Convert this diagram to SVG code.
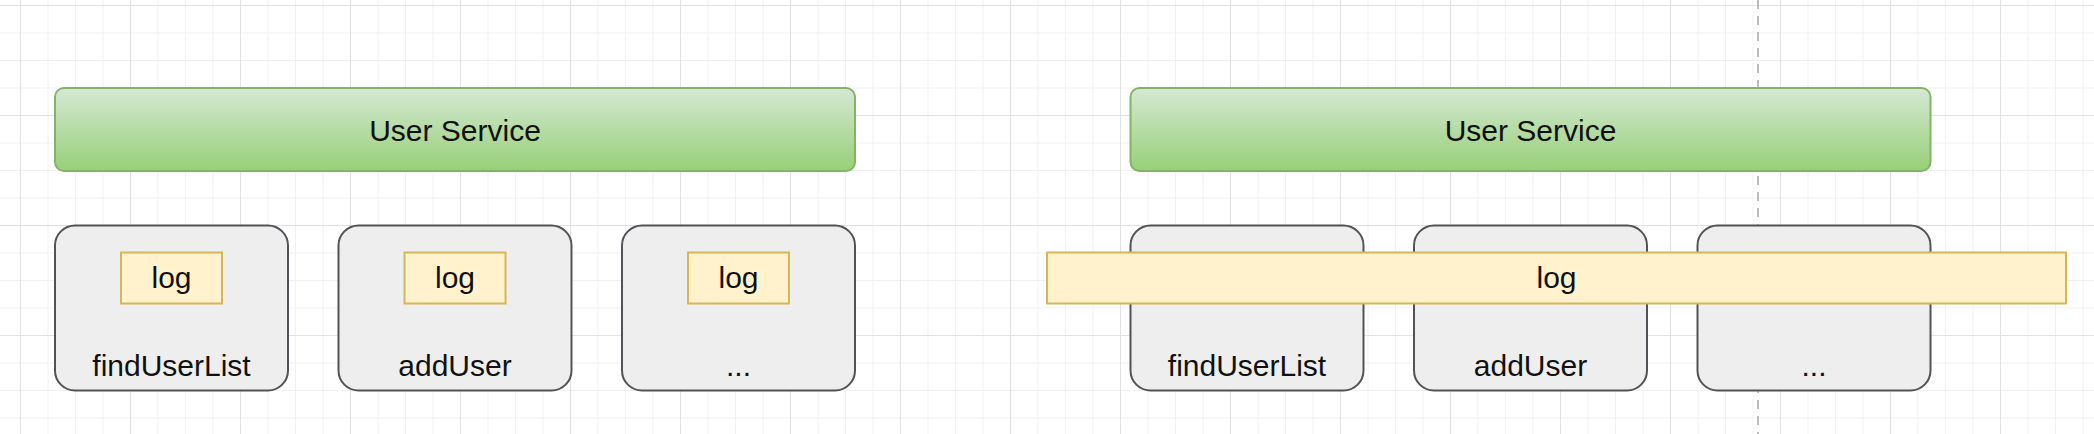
<svg xmlns="http://www.w3.org/2000/svg" width="2094" height="434" viewBox="0 0 2094 434">
  <style>
    .svc { fill: url(#greenGrad); stroke: #82b366; stroke-width: 2; }
    .method { fill: #eeeeee; stroke: #505357; stroke-width: 2; }
    .log { fill: #fff2cc; stroke: #d6b656; stroke-width: 2; }
    .txt { font-family: "Liberation Sans", Arial, sans-serif; font-size: 30px; fill: #111111; text-anchor: middle; }
    .guide { stroke: #a6a6a6; stroke-width: 1.5; stroke-dasharray: 9 7; fill: none; }
  </style>
  <defs>
    <linearGradient id="greenGrad" x1="0" y1="0" x2="0" y2="1">
      <stop offset="0" stop-color="#d5e8d4"/>
      <stop offset="1" stop-color="#97d077"/>
    </linearGradient>
    <pattern id="grid" x="20" y="5" width="110" height="110" patternUnits="userSpaceOnUse">
      <path d="M28 0V110M55.5 0V110M83 0V110M0 28H110M0 55.5H110M0 83H110" stroke="#f1f1f1" stroke-width="1" fill="none"/>
      <path d="M0.5 0V110M0 0.5H110" stroke="#e2e2e2" stroke-width="1.2" fill="none"/>
    </pattern>
  </defs>

  <rect x="0" y="0" width="2094" height="434" fill="#ffffff"/>
  <rect x="0" y="0" width="2094" height="434" fill="url(#grid)"/>

  <g id="dashed-guide">
    <line class="guide" x1="1758" y1="0" x2="1758" y2="434"/>
  </g>

  <g id="connectors"></g>

  <!-- Left side -->
  <g id="user-service-left">
    <rect class="svc" x="55" y="88" width="800" height="83" rx="9" ry="9"/>
    <text class="txt" x="455" y="141">User Service</text>
  </g>
  <g id="findUserList-left">
    <rect class="method" x="55" y="225.5" width="233" height="165" rx="20" ry="20"/>
    <text class="txt" x="171.5" y="376">findUserList</text>
  </g>
  <g id="log-left-1">
    <rect class="log" x="121" y="252.5" width="101" height="51"/>
    <text class="txt" x="171.5" y="288">log</text>
  </g>
  <g id="addUser-left">
    <rect class="method" x="338.5" y="225.5" width="233" height="165" rx="20" ry="20"/>
    <text class="txt" x="455" y="376">addUser</text>
  </g>
  <g id="log-left-2">
    <rect class="log" x="404.5" y="252.5" width="101" height="51"/>
    <text class="txt" x="455" y="288">log</text>
  </g>
  <g id="more-left">
    <rect class="method" x="622" y="225.5" width="233" height="165" rx="20" ry="20"/>
    <text class="txt" x="738.5" y="376">...</text>
  </g>
  <g id="log-left-3">
    <rect class="log" x="688" y="252.5" width="101" height="51"/>
    <text class="txt" x="738.5" y="288">log</text>
  </g>

  <!-- Right side -->
  <g id="user-service-right">
    <rect class="svc" x="1130.5" y="88" width="800" height="83" rx="9" ry="9"/>
    <text class="txt" x="1530.5" y="141">User Service</text>
  </g>
  <g id="findUserList-right">
    <rect class="method" x="1130.5" y="225.5" width="233" height="165" rx="20" ry="20"/>
    <text class="txt" x="1247" y="376">findUserList</text>
  </g>
  <g id="addUser-right">
    <rect class="method" x="1414" y="225.5" width="233" height="165" rx="20" ry="20"/>
    <text class="txt" x="1530.5" y="376">addUser</text>
  </g>
  <g id="more-right">
    <rect class="method" x="1697.5" y="225.5" width="233" height="165" rx="20" ry="20"/>
    <text class="txt" x="1814" y="376">...</text>
  </g>
  <g id="log-bar-right">
    <rect class="log" x="1047" y="252.5" width="1019" height="51"/>
    <text class="txt" x="1556.5" y="288">log</text>
  </g>
</svg>
